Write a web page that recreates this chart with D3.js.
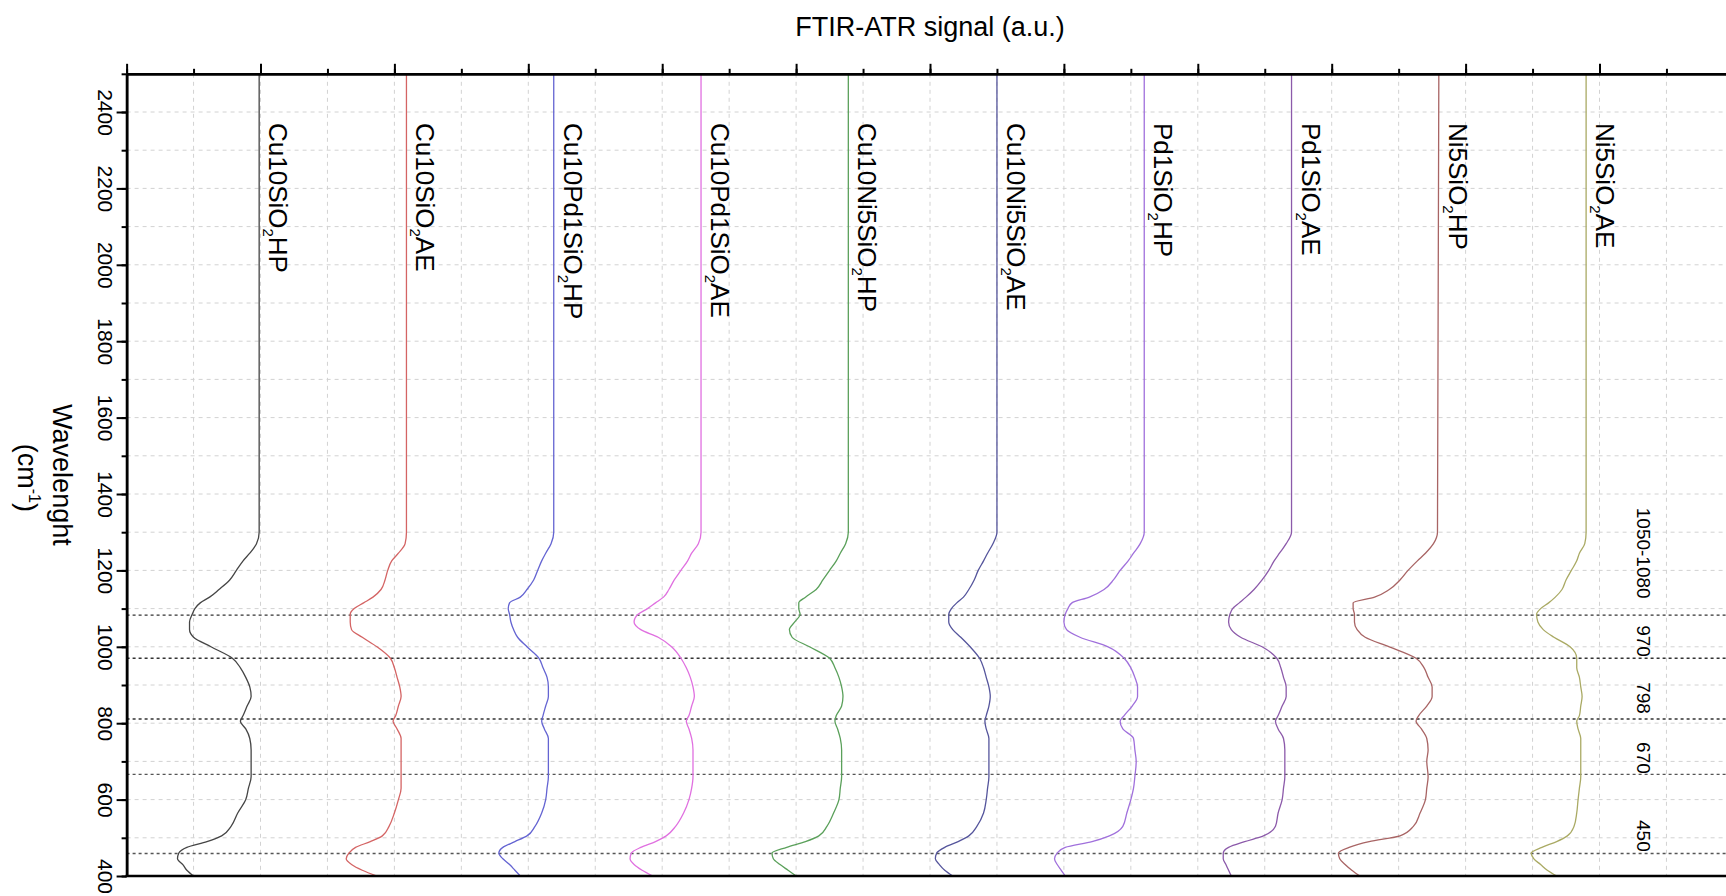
<!DOCTYPE html>
<html><head><meta charset="utf-8">
<script src="https://cdn.jsdelivr.net/npm/d3@7"></script>
<style>
body{margin:0;background:#fff;}
svg{display:block;font-family:"Liberation Sans",Arial,sans-serif;}
</style>
</head><body>
<svg id="chart" width="1726" height="896"></svg>
<script>
// ---- data (wavenumber grid, cm^-1) ----
const wavenumbers = [2500, 1300, 1270, 1245, 1225, 1200, 1175, 1150, 1130, 1115, 1100, 1085, 1065, 1045, 1025, 1000, 970, 945, 920, 895, 870, 845, 820, 805, 785, 760, 730, 700, 660, 630, 600, 565, 530, 505, 490, 475, 460, 445, 430, 415, 400];

const seriesNames = ["Cu10SiO2HP", "Cu10SiO2AE", "Cu10Pd1SiO2HP", "Cu10Pd1SiO2AE", "Cu10Ni5SiO2HP", "Cu10Ni5SiO2AE", "Pd1SiO2HP", "Pd1SiO2AE", "Ni5SiO2HP", "Ni5SiO2AE"];
const offsets = [0.99, 2.09, 3.19, 4.29, 5.39, 6.50, 7.60, 8.70, 9.80, 10.90];
const colors = ["#454545", "#d46464", "#6464d2", "#e070e0", "#5aa05a", "#55559c", "#a070dc", "#8c5aaa", "#a86464", "#aaaa64"];

// signal relative to each trace's baseline (a.u.)
const sCu10SiO2HP     = [0, 0, -0.02, -0.07, -0.12, -0.17, -0.22, -0.30, -0.37, -0.44, -0.48, -0.50, -0.52, -0.52, -0.49, -0.36, -0.20, -0.14, -0.10, -0.07, -0.06, -0.09, -0.12, -0.14, -0.10, -0.07, -0.06, -0.06, -0.06, -0.08, -0.10, -0.16, -0.21, -0.28, -0.39, -0.54, -0.60, -0.61, -0.57, -0.54, -0.49];
const sCu10SiO2AE     = [0, 0, -0.01, -0.06, -0.11, -0.14, -0.16, -0.19, -0.25, -0.32, -0.39, -0.42, -0.42, -0.41, -0.33, -0.22, -0.12, -0.09, -0.07, -0.05, -0.04, -0.06, -0.08, -0.10, -0.07, -0.04, -0.04, -0.04, -0.04, -0.04, -0.06, -0.09, -0.13, -0.18, -0.27, -0.38, -0.43, -0.45, -0.41, -0.33, -0.22];
const sCu10Pd1SiO2HP  = [0, 0, -0.02, -0.06, -0.09, -0.12, -0.15, -0.20, -0.25, -0.33, -0.34, -0.33, -0.32, -0.30, -0.27, -0.20, -0.11, -0.08, -0.05, -0.04, -0.04, -0.06, -0.08, -0.09, -0.07, -0.04, -0.04, -0.04, -0.04, -0.05, -0.06, -0.09, -0.14, -0.20, -0.29, -0.38, -0.41, -0.38, -0.33, -0.29, -0.25];
const sCu10Pd1SiO2AE  = [0, 0, -0.02, -0.07, -0.10, -0.15, -0.20, -0.24, -0.28, -0.34, -0.40, -0.47, -0.50, -0.45, -0.32, -0.22, -0.15, -0.11, -0.08, -0.06, -0.05, -0.07, -0.09, -0.11, -0.09, -0.07, -0.06, -0.06, -0.06, -0.07, -0.09, -0.13, -0.19, -0.26, -0.34, -0.45, -0.52, -0.53, -0.50, -0.44, -0.36];
const sCu10Ni5SiO2HP  = [0, 0, -0.02, -0.06, -0.09, -0.14, -0.19, -0.24, -0.32, -0.37, -0.37, -0.36, -0.40, -0.44, -0.42, -0.29, -0.14, -0.10, -0.07, -0.05, -0.04, -0.05, -0.09, -0.10, -0.08, -0.06, -0.05, -0.05, -0.05, -0.06, -0.07, -0.11, -0.16, -0.22, -0.32, -0.46, -0.57, -0.56, -0.51, -0.45, -0.39];
const sCu10Ni5SiO2AE  = [0, 0, -0.03, -0.07, -0.10, -0.14, -0.17, -0.21, -0.25, -0.30, -0.34, -0.36, -0.36, -0.33, -0.27, -0.20, -0.13, -0.10, -0.08, -0.06, -0.05, -0.06, -0.08, -0.09, -0.08, -0.06, -0.06, -0.06, -0.06, -0.07, -0.08, -0.10, -0.15, -0.21, -0.29, -0.39, -0.45, -0.46, -0.43, -0.39, -0.33];
const sPd1SiO2HP      = [0, 0, -0.03, -0.08, -0.12, -0.18, -0.23, -0.30, -0.41, -0.54, -0.57, -0.59, -0.60, -0.58, -0.48, -0.27, -0.15, -0.10, -0.07, -0.05, -0.05, -0.09, -0.15, -0.18, -0.16, -0.08, -0.07, -0.06, -0.07, -0.08, -0.10, -0.13, -0.16, -0.26, -0.39, -0.59, -0.65, -0.67, -0.65, -0.62, -0.59];
const sPd1SiO2AE      = [0, 0, -0.04, -0.09, -0.13, -0.17, -0.22, -0.28, -0.34, -0.39, -0.44, -0.46, -0.47, -0.45, -0.38, -0.22, -0.11, -0.08, -0.06, -0.04, -0.04, -0.07, -0.10, -0.12, -0.10, -0.06, -0.05, -0.05, -0.05, -0.06, -0.07, -0.10, -0.12, -0.21, -0.35, -0.47, -0.51, -0.51, -0.49, -0.47, -0.45];
const sNi5SiO2HP      = [0, -0.01, -0.04, -0.10, -0.16, -0.23, -0.29, -0.37, -0.48, -0.64, -0.64, -0.63, -0.63, -0.61, -0.55, -0.37, -0.17, -0.11, -0.08, -0.05, -0.05, -0.09, -0.15, -0.17, -0.13, -0.09, -0.08, -0.09, -0.08, -0.09, -0.10, -0.14, -0.19, -0.29, -0.52, -0.67, -0.75, -0.74, -0.70, -0.65, -0.59];
const sNi5SiO2AE      = [0, 0, -0.01, -0.05, -0.07, -0.11, -0.15, -0.18, -0.23, -0.28, -0.34, -0.37, -0.36, -0.32, -0.24, -0.12, -0.07, -0.07, -0.05, -0.04, -0.03, -0.04, -0.05, -0.07, -0.06, -0.04, -0.04, -0.04, -0.04, -0.05, -0.06, -0.07, -0.09, -0.14, -0.22, -0.33, -0.41, -0.39, -0.34, -0.29, -0.22];
const seriesValues = [sCu10SiO2HP, sCu10SiO2AE, sCu10Pd1SiO2HP, sCu10Pd1SiO2AE, sCu10Ni5SiO2HP, sCu10Ni5SiO2AE, sPd1SiO2HP, sPd1SiO2AE, sNi5SiO2HP, sNi5SiO2AE];

const yTickLabels = [400, 600, 800, 1000, 1200, 1400, 1600, 1800, 2000, 2200, 2400];
const refLineValues = [1083, 970, 811, 666, 459];
const refLabels = ["1050-1080", "970", "798", "670", "450"];
const refLabelAt = [1245, 1015, 866, 709, 505];

// ---- drawing ----
const svg = d3.select("#chart");
svg.append("rect").attr("width", 1726).attr("height", 896).attr("fill", "#fff");

const x = d3.scaleLinear().domain([0, 12]).range([126.6, 1733.4]);
const y = d3.scaleLinear().domain([400, 2500]).range([876, 73.8]);

// grid
const grid = svg.append("g");
grid.selectAll("line.v").data(d3.range(0.5, 12.01, 0.5)).join("line")
  .attr("x1", d => x(d)).attr("x2", d => x(d)).attr("y1", y(2500)).attr("y2", y(400))
  .attr("stroke", "#d2d2d2").attr("stroke-width", 1).attr("stroke-dasharray", "4,4");
grid.selectAll("line.h").data(d3.range(500, 2401, 100)).join("line")
  .attr("x1", x(0)).attr("x2", x(12)).attr("y1", d => y(d)).attr("y2", d => y(d))
  .attr("stroke", "#d2d2d2").attr("stroke-width", 1).attr("stroke-dasharray", "4,4");

// reference lines
svg.append("g").selectAll("line").data(refLineValues).join("line")
  .attr("x1", x(0)).attr("x2", x(12)).attr("y1", d => y(d)).attr("y2", d => y(d))
  .attr("stroke", (d, i) => i < 3 ? "#333" : "#555").attr("stroke-width", 1.4).attr("stroke-dasharray", "3,3");

svg.append("g").selectAll("text").data(refLabels).join("text")
  .attr("transform", (d, i) => `translate(1637,${y(refLabelAt[i])}) rotate(90)`)
  .attr("text-anchor", "middle").attr("font-size", 19).attr("fill", "#000")
  .text(d => d);

// spectra
const line = d3.line().x(d => x(d[0])).y(d => y(d[1])).curve(d3.curveMonotoneY);
seriesValues.forEach((vals, i) => {
  const pts = wavenumbers.map((w, j) => [offsets[i] + vals[j], w]);
  svg.append("path").attr("d", line(pts)).attr("fill", "none")
    .attr("stroke", colors[i]).attr("stroke-width", 1.3);
});

// series labels
seriesNames.forEach((name, i) => {
  const m = name.match(/^(.*SiO)2(.*)$/);
  const t = svg.append("text")
    .attr("transform", `translate(${x(offsets[i]) + 10},123) rotate(90)`)
    .attr("font-size", 26).attr("fill", "#000");
  t.append("tspan").text(m[1]);
  t.append("tspan").attr("font-size", 15).attr("dy", 6).text("2");
  t.append("tspan").attr("dy", -6).text(m[2]);
});

// axes
function styleAxis(g, w) {
  g.select(".domain").attr("stroke", "#000").attr("stroke-width", 2.5);
  g.selectAll(".tick line").attr("stroke", "#000").attr("stroke-width", 2);
}
svg.append("g").attr("transform", `translate(0,${y(2500)})`)
  .call(d3.axisTop(x).tickValues(d3.range(0, 12.01, 0.5)).tickSize(5).tickSizeOuter(0).tickFormat(""))
  .call(styleAxis);
svg.append("g").attr("transform", `translate(0,${y(2500)})`)
  .call(d3.axisTop(x).tickValues(d3.range(0, 12.01, 1)).tickSize(10).tickSizeOuter(0).tickFormat(""))
  .call(styleAxis);
svg.append("g").attr("transform", `translate(${x(0)},0)`)
  .call(d3.axisLeft(y).tickValues(d3.range(400, 2501, 100)).tickSize(5).tickSizeOuter(0).tickFormat(""))
  .call(styleAxis);
const yAx = svg.append("g").attr("transform", `translate(${x(0)},0)`)
  .call(d3.axisLeft(y).tickValues(yTickLabels).tickSize(10).tickSizeOuter(0).tickFormat(d3.format("d")))
  .call(styleAxis);
yAx.selectAll(".tick text")
  .attr("x", 0).attr("dy", null).attr("text-anchor", "middle")
  .attr("transform", "translate(-29,0) rotate(90)")
  .attr("font-size", 21).attr("font-family", "Liberation Sans, Arial, sans-serif").attr("fill", "#000");
// bottom frame line
svg.append("line").attr("x1", x(0) - 1).attr("x2", x(12)).attr("y1", y(400)).attr("y2", y(400))
  .attr("stroke", "#000").attr("stroke-width", 2.5);

// titles
svg.append("text").attr("x", 930).attr("y", 36).attr("text-anchor", "middle")
  .attr("font-size", 27).attr("fill", "#000").text("FTIR-ATR signal (a.u.)");
svg.append("text").attr("transform", `translate(53,${(y(400) + y(2500)) / 2}) rotate(90)`)
  .attr("text-anchor", "middle").attr("font-size", 27).attr("fill", "#000").text("Wavelenght");
const unit = svg.append("text").attr("transform", `translate(18,${(y(400) + y(2500)) / 2 + 3}) rotate(90)`)
  .attr("text-anchor", "middle").attr("font-size", 27).attr("fill", "#000");
unit.append("tspan").text("(cm");
unit.append("tspan").attr("font-size", 16).attr("dy", -11).text("-1");
unit.append("tspan").attr("dy", 11).text(")");
</script>
</body></html>
